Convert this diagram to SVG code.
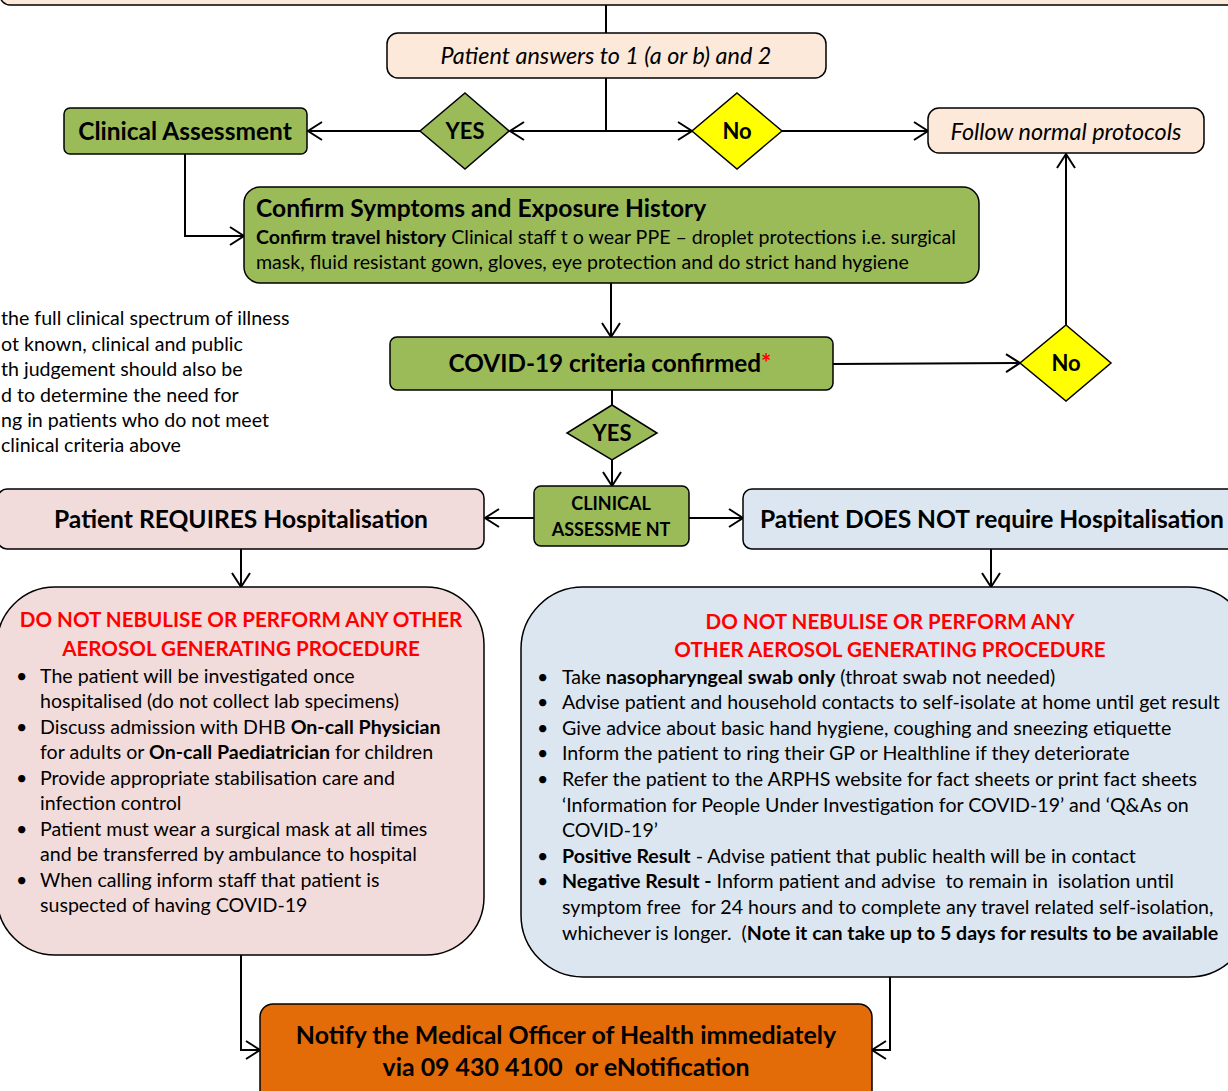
<svg xmlns="http://www.w3.org/2000/svg" width="1228" height="1091" viewBox="0 0 1228 1091">
<defs>
<marker id="arr" markerUnits="userSpaceOnUse" markerWidth="20" markerHeight="22" refX="15" refY="11" orient="auto">
<path d="M1,2 L15,11 L1,20" fill="none" stroke="#000" stroke-width="2"/>
</marker>
<style>
text{font-family:Lato,"Open Sans","Liberation Sans",sans-serif;fill:#000}
.b{font-weight:bold}
.i{font-style:italic}
.peach{fill:#fde9d9;stroke:#000;stroke-width:1.5}
.green{fill:#9bbb59;stroke:#000;stroke-width:1.5}
.yellow{fill:#ffff00;stroke:#000;stroke-width:1.5}
.pink{fill:#f2dcdb;stroke:#000;stroke-width:1.5}
.blue{fill:#dce6f1;stroke:#000;stroke-width:1.5}
.orange{fill:#e36c09;stroke:#000;stroke-width:1.5}
.red{fill:#ff0000;font-weight:bold}
.con{fill:none;stroke:#000;stroke-width:2}
.body{font-size:19.6px}
</style>
</defs>

<g id="connectors">
<line class="con" x1="606" y1="5" x2="606" y2="33"/>
<line class="con" x1="606" y1="78" x2="606" y2="131"/>
<line class="con" x1="606" y1="131" x2="510" y2="131" marker-end="url(#arr)"/>
<line class="con" x1="606" y1="131" x2="692" y2="131" marker-end="url(#arr)"/>
<line class="con" x1="420" y1="131" x2="308" y2="131" marker-end="url(#arr)"/>
<line class="con" x1="782" y1="131" x2="928" y2="131" marker-end="url(#arr)"/>
<polyline class="con" points="185,154 185,236 244,236" marker-end="url(#arr)"/>
<line class="con" x1="611" y1="283" x2="611" y2="337" marker-end="url(#arr)"/>
<line class="con" x1="833" y1="364" x2="1020" y2="363" marker-end="url(#arr)"/>
<line class="con" x1="1066" y1="325" x2="1066" y2="154" marker-end="url(#arr)"/>
<line class="con" x1="612" y1="390" x2="612" y2="405"/>
<line class="con" x1="612" y1="460" x2="612" y2="486" marker-end="url(#arr)"/>
<line class="con" x1="534" y1="518" x2="485" y2="518" marker-end="url(#arr)"/>
<line class="con" x1="689" y1="518" x2="743" y2="518" marker-end="url(#arr)"/>
<line class="con" x1="241" y1="549" x2="241" y2="587" marker-end="url(#arr)"/>
<line class="con" x1="991" y1="549" x2="991" y2="587" marker-end="url(#arr)"/>
<polyline class="con" points="241,955 241,1050 260,1050" marker-end="url(#arr)"/>
<polyline class="con" points="890,977 890,1050 872,1050" marker-end="url(#arr)"/>
</g>

<g id="top-box">
<rect class="peach" x="0" y="-40" width="1260" height="45" rx="10"/>
</g>

<g id="patient-answers">
<rect class="peach" x="387" y="33" width="439" height="45" rx="11"/>
<text class="i" x="606" y="64" font-size="23.4" text-anchor="middle">Patient answers to 1 (a or b) and 2</text>
</g>

<g id="yes-1">
<polygon class="green" points="465,93 509,131 465,169 420,131"/>
<text class="b" x="465" y="139" font-size="22" text-anchor="middle">YES</text>
</g>

<g id="no-1">
<polygon class="yellow" points="737,93 782,131 737,169 692,131"/>
<text class="b" x="737" y="139" font-size="22" text-anchor="middle">No</text>
</g>

<g id="clinical-assessment">
<rect class="green" x="64" y="108" width="243" height="46" rx="6"/>
<text class="b" x="185" y="140" font-size="24.5" text-anchor="middle">Clinical Assessment</text>
</g>

<g id="follow-normal">
<rect class="peach" x="928" y="108" width="276" height="45" rx="11"/>
<text class="i" x="1066" y="140" font-size="23.4" text-anchor="middle">Follow normal protocols</text>
</g>

<g id="confirm-symptoms">
<rect class="green" x="244" y="187" width="735" height="96" rx="16"/>
<text class="b" x="256" y="217" font-size="24.6">Confirm Symptoms and Exposure History</text>
<text class="body" x="256" y="244"><tspan class="b">Confirm travel history</tspan> Clinical staff t o wear PPE – droplet protections i.e. surgical</text>
<text class="body" x="256" y="269">mask, fluid resistant gown, gloves, eye protection and do strict hand hygiene</text>
</g>

<g id="note">
<text class="body" x="1" y="325">the full clinical spectrum of illness</text>
<text class="body" x="1" y="351">ot known, clinical and public</text>
<text class="body" x="1" y="376">th judgement should also be</text>
<text class="body" x="1" y="402">d to determine the need for</text>
<text class="body" x="1" y="427">ng in patients who do not meet</text>
<text class="body" x="1" y="452">clinical criteria above</text>
</g>

<g id="covid-criteria">
<rect class="green" x="390" y="337" width="443" height="53" rx="7"/>
<text class="b" x="610" y="372" font-size="24.3" text-anchor="middle">COVID-19 criteria confirmed<tspan fill="#ff0000">*</tspan></text>
</g>

<g id="no-2">
<polygon class="yellow" points="1066,325 1111,363 1066,401 1020,363"/>
<text class="b" x="1066" y="371" font-size="22" text-anchor="middle">No</text>
</g>

<g id="yes-2">
<polygon class="green" points="612,405 657,433 612,460 567,433"/>
<text class="b" x="612" y="441" font-size="22" text-anchor="middle">YES</text>
</g>

<g id="clinical-assessment-2">
<rect class="green" x="534" y="486" width="155" height="60" rx="7"/>
<text class="b" x="611" y="510" font-size="18" text-anchor="middle">CLINICAL</text>
<text class="b" x="611" y="536" font-size="18" text-anchor="middle">ASSESSME NT</text>
</g>

<g id="requires-hospitalisation">
<rect class="pink" x="-2" y="489" width="486" height="60" rx="9"/>
<text class="b" x="241" y="528" font-size="24.6" text-anchor="middle">Patient REQUIRES Hospitalisation</text>
</g>

<g id="not-require-hospitalisation">
<rect class="blue" x="743" y="489" width="500" height="60" rx="9"/>
<text class="b" x="760" y="528" font-size="24.6">Patient DOES NOT require Hospitalisation</text>
</g>

<g id="hospital-actions">
<rect class="pink" x="-3" y="587" width="487" height="368" rx="58"/>
<text class="red" x="241" y="627" font-size="20.6" text-anchor="middle">DO NOT NEBULISE OR PERFORM ANY OTHER</text>
<text class="red" x="241" y="656" font-size="20.6" text-anchor="middle">AEROSOL GENERATING PROCEDURE</text>
<g class="body">
<text x="16" y="683">•</text><text x="40" y="683">The patient will be investigated once</text>
<text x="40" y="708">hospitalised (do not collect lab specimens)</text>
<text x="16" y="734">•</text><text x="40" y="734">Discuss admission with DHB <tspan class="b">On-call Physician</tspan></text>
<text x="40" y="759">for adults or <tspan class="b">On-call Paediatrician</tspan> for children</text>
<text x="16" y="785">•</text><text x="40" y="785">Provide appropriate stabilisation care and</text>
<text x="40" y="810">infection control</text>
<text x="16" y="836">•</text><text x="40" y="836">Patient must wear a surgical mask at all times</text>
<text x="40" y="861">and be transferred by ambulance to hospital</text>
<text x="16" y="887">•</text><text x="40" y="887">When calling inform staff that patient is</text>
<text x="40" y="912">suspected of having COVID-19</text>
</g>
</g>

<g id="home-actions">
<rect class="blue" x="521" y="587" width="730" height="390" rx="62"/>
<text class="red" x="890" y="629" font-size="20.6" text-anchor="middle">DO NOT NEBULISE OR PERFORM ANY</text>
<text class="red" x="890" y="657" font-size="20.6" text-anchor="middle">OTHER AEROSOL GENERATING PROCEDURE</text>
<g class="body">
<text x="537" y="684">•</text><text x="562" y="684">Take <tspan class="b">nasopharyngeal swab only</tspan> (throat swab not needed)</text>
<text x="537" y="709">•</text><text x="562" y="709">Advise patient and household contacts to self-isolate at home until get result</text>
<text x="537" y="735">•</text><text x="562" y="735">Give advice about basic hand hygiene, coughing and sneezing etiquette</text>
<text x="537" y="760">•</text><text x="562" y="760">Inform the patient to ring their GP or Healthline if they deteriorate</text>
<text x="537" y="786">•</text><text x="562" y="786">Refer the patient to the ARPHS website for fact sheets or print fact sheets</text>
<text x="562" y="812">‘Information for People Under Investigation for COVID-19’ and ‘Q&amp;As on</text>
<text x="562" y="837">COVID-19’</text>
<text x="537" y="863">•</text><text x="562" y="863"><tspan class="b">Positive Result</tspan> - Advise patient that public health will be in contact</text>
<text x="537" y="888">•</text><text x="562" y="888" xml:space="preserve"><tspan class="b">Negative Result -</tspan> Inform patient and advise  to remain in  isolation until</text>
<text x="562" y="914" xml:space="preserve">symptom free  for 24 hours and to complete any travel related self-isolation,</text>
<text x="562" y="940" xml:space="preserve">whichever is longer.  (<tspan class="b">Note it can take up to 5 days for results to be available</tspan></text>
</g>
</g>

<g id="notify-moh">
<rect class="orange" x="260" y="1004" width="612" height="110" rx="13"/>
<text class="b" x="566" y="1044" font-size="24.9" text-anchor="middle">Notify the Medical Officer of Health immediately</text>
<text class="b" x="566" y="1076" font-size="24.9" text-anchor="middle" xml:space="preserve">via 09 430 4100  or eNotification</text>
</g>
</svg>
